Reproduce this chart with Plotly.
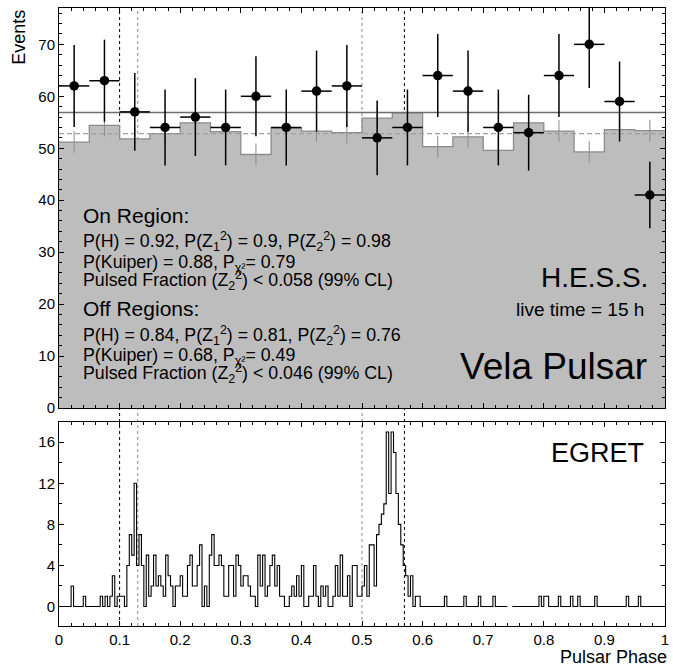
import plotly.graph_objects as go

# ---------------- data ----------------
top_bin_width = 0.05
on_counts = [62, 63, 57, 54, 56, 54, 60, 54, 61, 62, 52, 54, 64, 61, 54, 53, 64, 70, 59, 41]
on_errors = [7.9, 7.9, 7.5, 7.3, 7.5, 7.3, 7.7, 7.3, 7.8, 7.9, 7.2, 7.3, 8.0, 7.8, 7.3, 7.3, 8.0, 8.4, 7.7, 6.4]
off_norm = [51.2, 54.4, 51.8, 52.8, 54.9, 53.2, 48.8, 53.9, 53.3, 53.0,
            55.8, 56.8, 50.3, 52.2, 49.6, 54.9, 53.3, 49.3, 53.6, 53.4]
off_errors = [2.1, 2.1, 2.1, 2.1, 2.1, 2.1, 2.1, 2.1, 2.1, 2.1,
              2.1, 2.1, 2.1, 2.1, 2.1, 2.1, 2.1, 2.1, 2.1, 2.1]
on_mean = 56.9
off_mean = 52.8

egret_bin_width = 0.004
egret_counts = [
    0, 0, 0, 0, 0, 2, 0, 0, 0, 0,      # 0-9
    1, 0, 0, 0, 0, 0, 0, 1, 0, 1,      # 10-19
    0, 1, 3, 0, 1, 1, 1, 0, 4, 7,      # 20-29
    5, 12, 4, 7, 4, 0, 5, 1, 2, 5,     # 30-39
    2, 3, 2, 1, 5, 3, 2, 0, 2, 2,      # 40-49
    3, 1, 1, 4, 5, 2, 2, 4, 6, 0,      # 50-59
    2, 0, 5, 7, 4, 4, 5, 4, 1, 1,      # 60-69
    4, 4, 1, 5, 4, 2, 3, 3, 2, 1,      # 70-79
    1, 0, 5, 2, 5, 1, 2, 4, 5, 2,      # 80-89
    4, 1, 1, 0, 0, 1, 2, 1, 3, 1,      # 90-99
    4, 0, 0, 1, 1, 4, 1, 0, 2, 1,      # 100-109
    2, 0, 0, 1, 4, 1, 5, 1, 1, 3,      # 110-119
    0, 4, 4, 1, 1, 2, 4, 1, 6, 6,      # 120-129
    2, 7, 8, 9, 10, 17, 11, 17, 15, 11,  # 130-139
    8, 6, 4, 3, 1, 3, 0, 1, 1, 0,      # 140-149
    0, 0, 0, 0, 0, 0, 0, 0, 0, 1,      # 150-159
    0, 0, 0, 0, 0, 0, 0, 1, 0, 0,      # 160-169
    0, 0, 0, 1, 0, 0, 0, 0, 0, 1,      # 170-179
    0, 0, 0, 0, 0, 0, None, 0, 0, 0,   # 180-189
    0, 0, 0, 0, 0, 0, 0, 0, 1, 0,      # 190-199
    1, 1, 0, 0, 0, 0, 1, 0, 0, 0,      # 200-209
    0, 1, 0, 0, 1, 0, 0, 0, 0, 0,      # 210-219
    0, 1, 0, 0, 0, 0, 0, 0, 0, 0,      # 220-229
    0, 0, 0, 0, 1, 0, 0, 0, 0, 1,      # 230-239
    0, 0, 0, 0, 0, 0, 0, 0, 0, 0,      # 240-249
]

pulse_window_edges = [0.1, 0.13, 0.5, 0.57]
pulse_window_colors = ["black", "#8a8a8a", "#8a8a8a", "black"]

x_tick_step = 0.1
top_y_tick_step = 10
bottom_y_tick_step = 4

# ---------------- geometry helpers ----------------
W, H = 673, 667
ML, MR, MT, MB = 59, 4, 8, 41
PW, PH = W - ML - MR, H - MT - MB


def px(xp):
    return (xp - ML) / PW


def py(yp):
    return (H - MB - yp) / PH


FONT = "Liberation Sans, Arial, Helvetica, sans-serif"

# ---------------- traces ----------------
n_top = len(off_norm)
top_edges = [i * top_bin_width for i in range(n_top + 1)]
top_centers = [(i + 0.5) * top_bin_width for i in range(n_top)]

n_e = len(egret_counts)
e_edges = [i * egret_bin_width for i in range(n_e + 1)]

fig = go.Figure()

# off-region histogram (gray filled)
fig.add_trace(go.Scatter(
    x=top_edges, y=off_norm + [off_norm[-1]],
    mode="lines", line_shape="hv",
    line=dict(color="#8c8c8c", width=1.3),
    fill="tozeroy", fillcolor="#bdbdbd",
    xaxis="x2", yaxis="y2", showlegend=False, hoverinfo="skip"))

# off-region error bars
fig.add_trace(go.Scatter(
    x=top_centers, y=off_norm, mode="markers",
    marker=dict(size=1, color="rgba(0,0,0,0)"),
    error_y=dict(type="data", array=off_errors, color="#8c8c8c", thickness=1, width=0),
    xaxis="x2", yaxis="y2", showlegend=False, hoverinfo="skip"))

# mean levels
fig.add_trace(go.Scatter(
    x=[0, 1], y=[on_mean, on_mean], mode="lines",
    line=dict(color="#6e6e6e", width=1.5),
    xaxis="x2", yaxis="y2", showlegend=False, hoverinfo="skip"))
fig.add_trace(go.Scatter(
    x=[0, 1], y=[off_mean, off_mean], mode="lines",
    line=dict(color="#a0a0a0", width=1.2, dash="5px,3px"),
    xaxis="x2", yaxis="y2", showlegend=False, hoverinfo="skip"))

# on-region points
fig.add_trace(go.Scatter(
    x=top_centers, y=on_counts, mode="markers",
    marker=dict(size=9.5, color="black"),
    error_y=dict(type="data", array=on_errors, color="black", thickness=1.5, width=0),
    error_x=dict(type="constant", value=top_bin_width / 2, color="black", thickness=1.5, width=0),
    xaxis="x2", yaxis="y2", showlegend=False, hoverinfo="skip"))

# EGRET histogram
fig.add_trace(go.Scatter(
    x=e_edges, y=egret_counts + [egret_counts[-1]],
    mode="lines", line_shape="hv", connectgaps=False,
    line=dict(color="black", width=1.1),
    xaxis="x", yaxis="y", showlegend=False, hoverinfo="skip"))

# ---------------- shapes ----------------
shapes = []
for xv, col in zip(pulse_window_edges, pulse_window_colors):
    shapes.append(dict(type="line", xref="x", yref="paper", x0=xv, x1=xv, y0=0, y1=1,
                       line=dict(color=col, width=1, dash="dot"), layer="below"))

# ---------------- annotations ----------------
ann = []


def txt(text, x, y, size, xanchor="left", yanchor="middle", **kw):
    ann.append(dict(text=text, x=x, y=y, xref="paper", yref="paper",
                    xanchor=xanchor, yanchor=yanchor, showarrow=False,
                    font=dict(family=FONT, size=size, color="black"), **kw))


lx = px(81.5)
STAT = 17.8
txt("On Region:", lx, py(215.5), 21)
txt("P(H) = 0.92, P(Z<sub>1</sub><sup>2</sup>) = 0.9, P(Z<sub>2</sub><sup>2</sup>) = 0.98", lx, py(241.8), STAT)
txt("P(Kuiper) = 0.88, P<sub>χ²</sub>= 0.79", lx, py(263), STAT)
txt("Pulsed Fraction (Z<sub>2</sub><sup>2</sup>) &lt; 0.058 (99% CL)", lx, py(280), STAT)
txt("Off Regions:", lx, py(308.5), 21)
txt("P(H) = 0.84, P(Z<sub>1</sub><sup>2</sup>) = 0.81, P(Z<sub>2</sub><sup>2</sup>) = 0.76", lx, py(335.7), STAT)
txt("P(Kuiper) = 0.68, P<sub>χ²</sub>= 0.49", lx, py(356.5), STAT)
txt("Pulsed Fraction (Z<sub>2</sub><sup>2</sup>) &lt; 0.046 (99% CL)", lx, py(373.3), STAT)

txt("H.E.S.S.", px(654), py(277.3), 28, xanchor="right")
txt("live time = 15 h", px(650), py(309.7), 19, xanchor="right")
txt("Vela Pulsar", px(652.5), py(366.3), 37, xanchor="right")
txt("EGRET", px(650), py(453), 27, xanchor="right")

txt("Events", px(18), 1.0, 18, xanchor="center", yanchor="top", textangle=-90)
txt("Pulsar Phase", px(673), py(656.7), 18, xanchor="right")

# ---------------- axes ----------------
axis_common = dict(
    ticks="inside", ticklen=5, tickwidth=1, tickcolor="black",
    showline=True, linecolor="black", linewidth=1, mirror="allticks",
    showgrid=False, zeroline=False, ticklabeloverflow="allow",
    tickfont=dict(family=FONT, size=15, color="black"),
)

fig.update_layout(
    width=W, height=H,
    margin=dict(l=ML, r=MR, t=MT, b=MB),
    paper_bgcolor="white", plot_bgcolor="white",
    showlegend=False,
    xaxis=dict(domain=[0, 1], range=[0, 1], anchor="y", tick0=0, dtick=x_tick_step,
               minor=dict(dtick=0.02, ticks="inside", ticklen=3, tickcolor="black"),
               **axis_common),
    xaxis2=dict(domain=[0, 1], range=[0, 1], anchor="y2", tick0=0, dtick=x_tick_step,
                showticklabels=False,
                minor=dict(dtick=0.02, ticks="inside", ticklen=3, tickcolor="black"),
                **axis_common),
    yaxis=dict(domain=[0, py(421.7)], range=[-1.9, 18], anchor="x", tick0=0,
               dtick=bottom_y_tick_step,
               minor=dict(dtick=2, ticks="inside", ticklen=3, tickcolor="black"),
               **axis_common),
    yaxis2=dict(domain=[py(408), 1], range=[0, 77], anchor="x2", tick0=0,
                dtick=top_y_tick_step,
                minor=dict(dtick=2, ticks="inside", ticklen=3, tickcolor="black"),
                **axis_common),
    shapes=shapes,
    annotations=ann,
)

fig.write_html(
    "out.html",
    config={"displayModeBar": False},
    post_script="document.body.style.margin='0';document.body.style.padding='0';"
                "document.body.style.overflow='hidden';",
)
